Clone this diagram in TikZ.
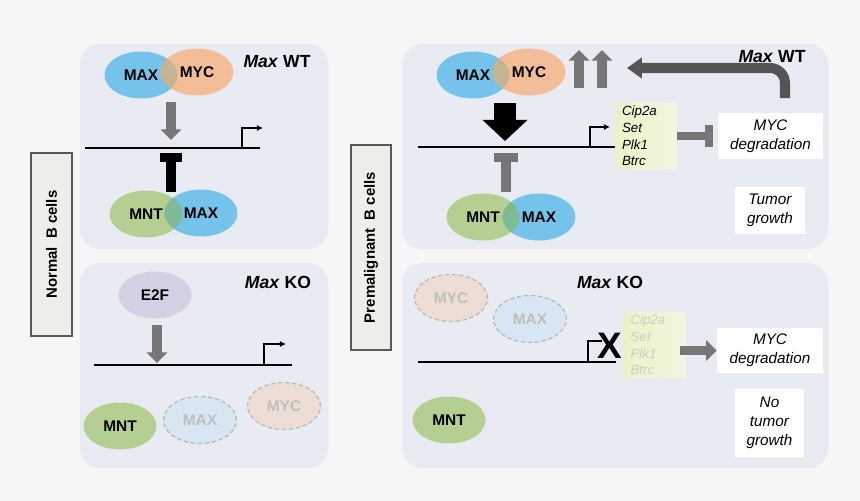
\documentclass[tikz,border=0pt]{standalone}
\usepackage{fontspec}
\setmainfont{Liberation Sans}
\usepackage{tikz}
\usetikzlibrary{shapes.geometric,arrows.meta}
\pgfdeclarelayer{panels}
\pgfdeclarelayer{blobs}
\pgfsetlayers{panels,blobs,main}
\definecolor{Page}{HTML}{F6F6F6}
\definecolor{Panel}{HTML}{E9EBF2}
\definecolor{Tag}{HTML}{EFEEE8}
\definecolor{MaxBlue}{HTML}{75C3EA}
\definecolor{MycPeach}{HTML}{F3BD98}
\definecolor{MntGreen}{HTML}{B5CF93}
\definecolor{E2fLilac}{HTML}{D6D0E5}
\definecolor{MixWarm}{HTML}{C6B394}
\definecolor{MixCool}{HTML}{7DBA95}
\definecolor{LostBlue}{HTML}{D6E6F2}
\definecolor{LostPeach}{HTML}{EEDDD4}
\definecolor{GeneLeft}{HTML}{EDF2C4}
\definecolor{GeneRight}{HTML}{F4F5E2}
\definecolor{ArrowGray}{HTML}{767676}
\definecolor{BackGray}{HTML}{555555}
\tikzstyle{panel}=[fill=Panel, rounded corners=0.4cm]
\tikzstyle{tag}=[draw=black!65, line width=0.8pt, fill=Tag, rotate=90, inner sep=0pt, font=\bfseries\fontsize{8.5}{10}\selectfont]
\tikzstyle{protein}=[ellipse, inner sep=0pt, minimum width=1.46cm, minimum height=0.94cm, font=\bfseries\fontsize{8.8}{10}\selectfont]
\tikzstyle{lost}=[protein, draw=black!28, dash pattern=on 2.5pt off 1.5pt, line width=0.7pt, text=black!25]
\tikzstyle{case}=[inner sep=0pt, font=\bfseries\fontsize{10}{12}\selectfont]
\tikzstyle{dna}=[-, draw=black, line width=1.4pt]
\tikzstyle{tss}=[-{Latex[length=3.5pt,width=3.5pt]}, draw=black, line width=0.6pt]
\tikzstyle{push}=[-{Triangle[length=6pt,width=11.5pt]}, draw=ArrowGray, line width=5.4pt]
\tikzstyle{heavy}=[-{Triangle[length=12pt,width=25pt]}, draw=black, line width=12.5pt]
\tikzstyle{back}=[-{Triangle[length=8.5pt,width=11.5pt]}, draw=BackGray, line width=5.7pt, rounded corners=0.3cm]
\tikzstyle{block}=[-{Rectangle[length=5pt,width=13pt]}, line width=5.7pt]
\tikzstyle{genes}=[left color=GeneLeft, right color=GeneRight, minimum width=1.24cm, minimum height=1.32cm, text width=0.96cm, align=left, inner xsep=0.14cm, inner ysep=0pt, font=\itshape\fontsize{7.6}{9.45}\selectfont]
\tikzstyle{outcome}=[fill=white, align=center, inner sep=0pt, font=\itshape\fontsize{8.7}{10.8}\selectfont]
\newcommand{\proteinfill}[2]{\fill[#1] (#2) ellipse [x radius=0.73cm, y radius=0.47cm];}
\newcommand{\overlapfill}[3]{\begin{scope}\clip (#2) ellipse [x radius=0.73cm, y radius=0.47cm]; \fill[#1] (#3) ellipse [x radius=0.73cm, y radius=0.47cm];\end{scope}}

\begin{document}
\begin{tikzpicture}[x=0.02cm, y=-0.02cm]
  \useasboundingbox (0,0) rectangle (860,501);
  \begin{pgfonlayer}{panels}
    \fill[Page] (0,0) rectangle (860,501);
    \fill[style=panel] (80,44) rectangle (328,249);
    \fill[style=panel] (80,263) rectangle (328,468);
    \fill[style=panel] (402,44) rectangle (828,249);
    \fill[style=panel] (402,263) rectangle (828,468);
  \end{pgfonlayer}

  % row labels
  \node [style=tag, minimum width=3.66cm, minimum height=0.82cm] (normal) at (51.5,244.5) {Normal\ \ B cells};
  \node [style=tag, minimum width=4.1cm, minimum height=0.8cm] (premal) at (371,247.5) {Premalignant\ \ B cells};

  % normal, Max WT
  \node [style=protein] (max1) at (141,75) {MAX};
  \node [style=protein] (myc1) at (197,72) {MYC};
  \node [style=case] (wt1) at (277,62) {\textit{Max} WT};
  \coordinate (down1) at (171,102);
  \coordinate (hit1) at (171,140);
  \coordinate (dnaL1) at (85,148);
  \coordinate (dnaR1) at (260,148);
  \coordinate (tss1) at (242,148);
  \node [style=protein] (mnt1) at (146,214) {MNT};
  \node [style=protein] (max2) at (201,213) {MAX};
  \coordinate (up1) at (171,192);
  \coordinate (bar1) at (171,153);
  \draw [style=push] (down1) to (hit1);
  \draw [style=dna] (dnaL1) to (dnaR1);
  \draw [style=tss] (tss1) -- ++(0,-20) -- ++(21,0);
  \draw [style=block, draw=black, -{Rectangle[length=5pt,width=12.5pt]}] (up1) to (bar1);

  % normal, Max KO
  \node [style=protein, fill=E2fLilac] (e2f) at (155,295) {E2F};
  \node [style=case] (ko1) at (278,282) {\textit{Max} KO};
  \coordinate (down2) at (157,325);
  \coordinate (hit2) at (157,363);
  \coordinate (dnaL2) at (94,365);
  \coordinate (dnaR2) at (292,365);
  \coordinate (tss2) at (264,365);
  \node [style=protein, fill=MntGreen] (mnt2) at (120,426) {MNT};
  \node [style=lost, fill=LostBlue] (max3) at (200,420) {MAX};
  \node [style=lost, fill=LostPeach] (myc2) at (284,406) {MYC};
  \draw [style=push] (down2) to (hit2);
  \draw [style=dna] (dnaL2) to (dnaR2);
  \draw [style=tss] (tss2) -- ++(0,-21) -- ++(22,0);

  % premalignant, Max WT
  \node [style=protein] (max4) at (473,75) {MAX};
  \node [style=protein] (myc3) at (529,72) {MYC};
  \node [style=case] (wt2) at (772,57) {\textit{Max} WT};
  \coordinate (rise1) at (579,88);
  \coordinate (top1) at (579,50);
  \coordinate (rise2) at (602,88);
  \coordinate (top2) at (602,50);
  \coordinate (down3) at (505,103);
  \coordinate (hit3) at (505,141);
  \coordinate (dnaL3) at (418,147);
  \coordinate (dnaR3) at (615,147);
  \coordinate (tss3) at (590,147);
  \node [style=genes] (genes1) at (646,136) {Cip2a\\Set\\Plk1\\Btrc};
  \node [style=outcome, minimum width=2.1cm, minimum height=0.94cm] (deg1) at (770.5,136) {MYC\\degradation};
  \node [style=outcome, minimum width=1.4cm, minimum height=0.94cm] (tumor) at (770,210.5) {Tumor\\growth};
  \coordinate (fb1) at (785,98);
  \coordinate (fb2) at (627,68);
  \node [style=protein] (mnt3) at (483,217) {MNT};
  \node [style=protein] (max5) at (539,217) {MAX};
  \coordinate (up3) at (506,192);
  \coordinate (bar3) at (506,153);
  \draw [style=push] (rise1) to (top1);
  \draw [style=push] (rise2) to (top2);
  \draw [style=heavy] (down3) to (hit3);
  \draw [style=dna] (dnaL3) to (dnaR3);
  \draw [style=tss] (tss3) -- ++(0,-20) -- ++(20,0);
  \draw [style=block, draw=ArrowGray, line width=4.6pt, -{Rectangle[length=4.6pt,width=13pt]}, shorten >=2.8pt] (genes1) to (deg1);
  \draw [style=back] (fb1) |- (fb2);
  \draw [style=block, draw=ArrowGray, -{Rectangle[length=5pt,width=14pt]}] (up3) to (bar3);

  % premalignant, Max KO
  \node [style=case] (ko2) at (610,282) {\textit{Max} KO};
  \node [style=lost, fill=LostPeach] (myc4) at (451,298) {MYC};
  \node [style=lost, fill=LostBlue] (max6) at (530,319) {MAX};
  \coordinate (dnaL4) at (418,362);
  \coordinate (dnaR4) at (616,362);
  \coordinate (tss4) at (588,362);
  \node [style=genes, text=black!20] (genes2) at (654.5,345) {Cip2a\\Set\\Plk1\\Btrc};
  \node [style=outcome, minimum width=2.12cm, minimum height=0.9cm] (deg2) at (770,350.5) {MYC\\degradation};
  \node [style=outcome, minimum width=1.38cm, minimum height=1.36cm] (notumor) at (769.5,423) {No\\tumor\\growth};
  \node [style=protein, fill=MntGreen] (mnt4) at (449,420) {MNT};
  \draw [style=dna] (dnaL4) to (dnaR4);
  \draw [style=tss, -] (tss4) -- ++(0,-21) -- ++(14,0);
  \node [inner sep=0pt, font=\bfseries\fontsize{21}{21}\selectfont] (stop) at (610,346) {X};
  \draw [style=push, shorten <=-3.4pt] (genes2.east |- deg2.west) to (deg2.west);

  \begin{pgfonlayer}{blobs}
    \proteinfill{MaxBlue}{max1}
    \proteinfill{MycPeach}{myc1}
    \overlapfill{MixWarm}{max1}{myc1}
    \proteinfill{MntGreen}{mnt1}
    \proteinfill{MaxBlue}{max2}
    \overlapfill{MixCool}{mnt1}{max2}
    \proteinfill{MaxBlue}{max4}
    \proteinfill{MycPeach}{myc3}
    \overlapfill{MixWarm}{max4}{myc3}
    \proteinfill{MntGreen}{mnt3}
    \proteinfill{MaxBlue}{max5}
    \overlapfill{MixCool}{mnt3}{max5}
  \end{pgfonlayer}
\end{tikzpicture}
\end{document}
